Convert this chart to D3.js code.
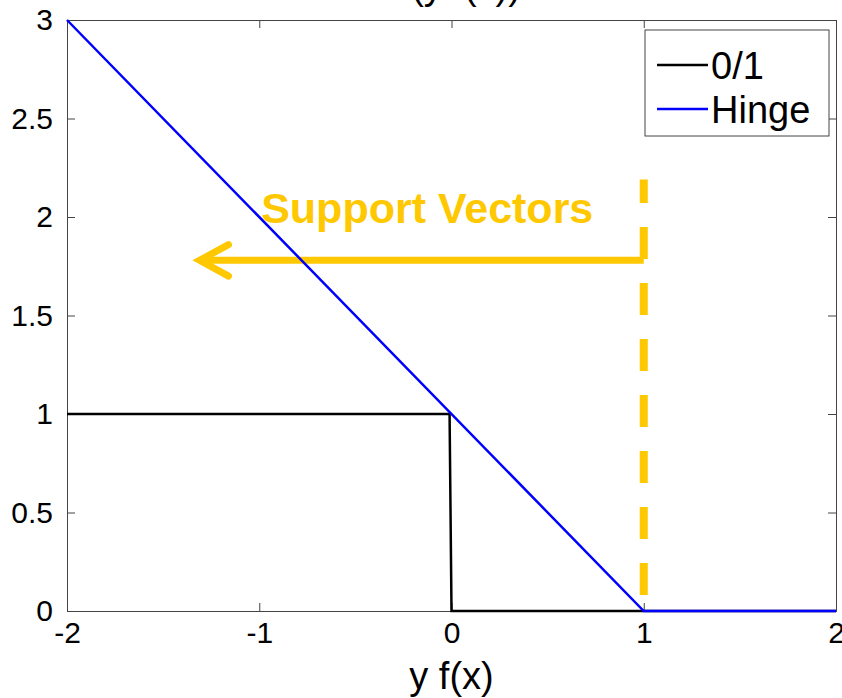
<!DOCTYPE html>
<html>
<head>
<meta charset="utf-8">
<script src="https://cdn.jsdelivr.net/npm/d3@7"></script>
<style>
  body { margin: 0; background: #fff; }
  svg { display: block; font-family: "Liberation Sans", Arial, sans-serif; }
</style>
</head>
<body>
<svg id="chart" width="842" height="698"></svg>
<script>
// data
const zeroOneX = [-2, -0.01, 0, 2];
const zeroOneY = [1, 1, 0, 0];
const hingeX = [-2, 1, 2];
const hingeY = [3, 0, 0];
const xTicks = [-2, -1, 0, 1, 2];
const yTicks = [0, 0.5, 1, 1.5, 2, 2.5, 3];
const legendLabels = ["0/1", "Hinge"];
const legendColors = ["#000000", "#0000ff"];

// support vector annotation (data coords)
const svLineX = [1, 1];
const svLineY = [0, 2.19];
const arrowX = [1, -1.31];
const arrowY = [1.78, 1.78];
const arrowHeadX = [-1.16, -1.31, -1.16];
const arrowHeadY = [1.86, 1.78, 1.70];
const svLabel = "Support Vectors";
const svLabelPos = [-0.99, 1.97];

const svg = d3.select("#chart");
const plotL = 67, plotR = 836, plotT = 20, plotB = 611;

const x = d3.scaleLinear().domain([-2, 2]).range([plotL, plotR]);
const y = d3.scaleLinear().domain([0, 3]).range([plotB, plotT]);

const axisColor = "#444";
const tickFont = 30;

// axes box with inward ticks
const gx = svg.append("g").attr("transform", `translate(0,${plotB})`)
    .call(d3.axisBottom(x).tickValues(xTicks).tickFormat(d => String(d)).tickSize(-8).tickPadding(10));
svg.append("g").attr("transform", `translate(0,${plotT})`)
    .call(d3.axisTop(x).tickValues(xTicks).tickFormat("").tickSize(-8));
const gy = svg.append("g").attr("transform", `translate(${plotL},0)`)
    .call(d3.axisLeft(y).tickValues(yTicks).tickFormat(d => String(d)).tickSize(-8).tickPadding(14));
svg.append("g").attr("transform", `translate(${plotR},0)`)
    .call(d3.axisRight(y).tickValues(yTicks).tickFormat("").tickSize(-8));

svg.selectAll(".domain").attr("stroke", axisColor);
svg.selectAll(".tick line").attr("stroke", axisColor);
svg.selectAll(".tick text")
    .attr("fill", "#000")
    .style("font-size", tickFont + "px")
    .style("font-family", "'Liberation Sans', Arial, sans-serif");
gx.selectAll(".tick text").attr("dy", "0.72em");

// title (mostly cut off at top)
svg.append("text")
    .attr("x", (plotL + plotR) / 2 + 4)
    .attr("y", -1)
    .attr("text-anchor", "middle")
    .style("font-size", "38px")
    .text("L(y f(x))");

// x axis label
svg.append("text")
    .attr("x", (plotL + plotR) / 2)
    .attr("y", 689)
    .attr("text-anchor", "middle")
    .style("font-size", "38px")
    .text("y f(x)");

const line = d3.line().x(d => x(d[0])).y(d => y(d[1]));

// support vector annotation
const gold = "#ffc800";
svg.append("path")
    .datum(svLineX.map((v, i) => [v, svLineY[i]]))
    .attr("d", line)
    .attr("fill", "none")
    .attr("stroke", gold)
    .attr("stroke-width", 8)
    .attr("stroke-dasharray", "32,24")
    .attr("stroke-dashoffset", 40);

svg.append("path")
    .datum(arrowX.map((v, i) => [v, arrowY[i]]))
    .attr("d", line)
    .attr("fill", "none")
    .attr("stroke", gold)
    .attr("stroke-width", 7);

svg.append("path")
    .datum(arrowHeadX.map((v, i) => [v, arrowHeadY[i]]))
    .attr("d", line)
    .attr("fill", "none")
    .attr("stroke", gold)
    .attr("stroke-width", 7)
    .attr("stroke-linecap", "round")
    .attr("stroke-linejoin", "miter");

svg.append("text")
    .attr("x", x(svLabelPos[0]))
    .attr("y", y(svLabelPos[1]))
    .attr("fill", gold)
    .style("font-size", "43px")
    .style("font-weight", "bold")
    .text(svLabel);

// loss curves
svg.append("path")
    .datum(zeroOneX.map((v, i) => [v, zeroOneY[i]]))
    .attr("d", line)
    .attr("fill", "none")
    .attr("stroke", legendColors[0])
    .attr("stroke-width", 2.5);

svg.append("path")
    .datum(hingeX.map((v, i) => [v, hingeY[i]]))
    .attr("d", line)
    .attr("fill", "none")
    .attr("stroke", legendColors[1])
    .attr("stroke-width", 2.5);

// legend
const lg = svg.append("g");
lg.append("rect")
    .attr("x", 645).attr("y", 30)
    .attr("width", 184).attr("height", 106)
    .attr("fill", "#fff")
    .attr("stroke", axisColor);

legendLabels.forEach((lab, i) => {
    const ly = 65 + i * 44;
    lg.append("line")
        .attr("x1", 657).attr("x2", 708)
        .attr("y1", ly).attr("y2", ly)
        .attr("stroke", legendColors[i])
        .attr("stroke-width", 2.5);
    lg.append("text")
        .attr("x", 711).attr("y", ly)
        .attr("dy", "0.36em")
        .style("font-size", "38px")
        .text(lab);
});
</script>
</body>
</html>
